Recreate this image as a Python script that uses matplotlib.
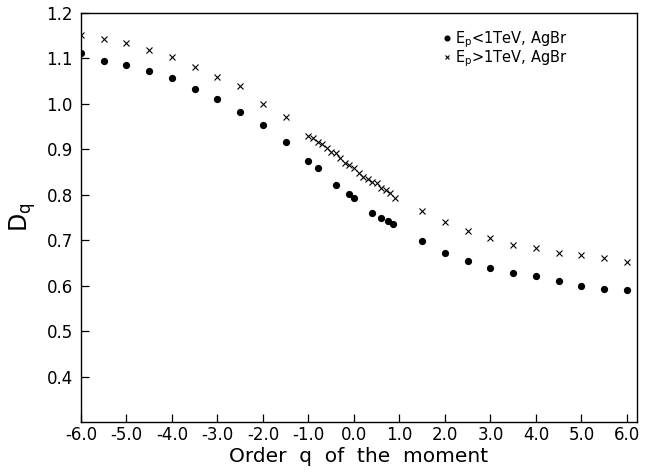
import matplotlib
matplotlib.use("Agg")
import matplotlib.pyplot as plt

plt.rcParams['font.family'] = ['DejaVu Sans']

# Ep < 1 TeV (dots)
q_low = [-6.0, -5.5, -5.0, -4.5, -4.0, -3.5, -3.0, -2.5, -2.0, -1.5, -1.0, -0.8,
         -0.4, -0.1, 0.0, 0.4, 0.6, 0.75, 0.86, 1.5, 2.0, 2.5, 3.0, 3.5, 4.0, 4.5,
         5.0, 5.5, 6.0]
d_low = [1.112, 1.095, 1.086, 1.073, 1.057, 1.033, 1.011, 0.983, 0.954, 0.917,
         0.875, 0.858, 0.821, 0.801, 0.792, 0.761, 0.748, 0.742, 0.735, 0.698,
         0.672, 0.654, 0.639, 0.628, 0.621, 0.610, 0.599, 0.593, 0.590]

# Ep > 1 TeV (crosses)
q_high = [-6.0, -5.5, -5.0, -4.5, -4.0, -3.5, -3.0, -2.5, -2.0, -1.5,
          -1.0, -0.9, -0.8, -0.7, -0.6, -0.5, -0.4, -0.3, -0.2, -0.1, 0.0,
          0.1, 0.2, 0.3, 0.4, 0.5, 0.6, 0.7, 0.8, 0.9,
          1.5, 2.0, 2.5, 3.0, 3.5, 4.0, 4.5, 5.0, 5.5, 6.0]
d_high = [1.152, 1.143, 1.134, 1.119, 1.104, 1.082, 1.060, 1.040, 1.000, 0.972,
          0.930, 0.924, 0.917, 0.911, 0.902, 0.895, 0.891, 0.880, 0.871, 0.866,
          0.860, 0.849, 0.840, 0.834, 0.829, 0.825, 0.816, 0.810, 0.803, 0.794,
          0.764, 0.739, 0.720, 0.704, 0.689, 0.682, 0.672, 0.667, 0.660, 0.652]

x_ticks = [-6.0, -5.0, -4.0, -3.0, -2.0, -1.0, 0.0, 1.0, 2.0, 3.0, 4.0, 5.0, 6.0]
x_labels = ["-6.0", "-5.0", "-4.0", "-3.0", "-2.0", "-1.0", "0.0", "1.0", "2.0",
            "3.0", "4.0", "5.0", "6.0"]
y_ticks = [0.4, 0.5, 0.6, 0.7, 0.8, 0.9, 1.0, 1.1, 1.2]
y_labels = ["0.4", "0.5", "0.6", "0.7", "0.8", "0.9", "1.0", "1.1", "1.2"]

fig = plt.figure(figsize=(6.53, 4.74), dpi=100)
ax = fig.add_axes([81/653, 1 - 422/474, (637-81)/653, (422-13)/474])

ax.plot(q_low, d_low, linestyle='none', marker='o', markersize=4.2,
        color='black', label=r'$\mathregular{E_p}$<1TeV, AgBr')
ax.plot(q_high, d_high, linestyle='none', marker='x', markersize=4,
        markeredgewidth=0.8, color='black', label=r'$\mathregular{E_p}$>1TeV, AgBr')

ax.set_xlim(-6.0, 6.22)
ax.set_ylim(0.30, 1.2)
ax.set_xticks(x_ticks)
ax.set_xticklabels(x_labels, fontsize=12)
ax.set_yticks(y_ticks)
ax.set_yticklabels(y_labels, fontsize=12)
ax.tick_params(direction='in', length=6, width=0.9)
ax.tick_params(axis='x', pad=3)
ax.tick_params(axis='y', pad=6)
for s in ax.spines.values():
    s.set_linewidth(1.0)

ax.set_xlabel('Order  q  of  the  moment', fontsize=14.5, labelpad=2)
ax.set_ylabel(r'$\mathregular{D_q}$', fontsize=17, labelpad=6)

ax.legend(loc='upper right', frameon=False, fontsize=10.5, handlelength=0.4,
          handletextpad=0.3, markerscale=0.8, borderaxespad=0.0,
          labelspacing=-0.1, bbox_to_anchor=(0.885, 0.975))

fig.savefig('out.png', dpi=100)
